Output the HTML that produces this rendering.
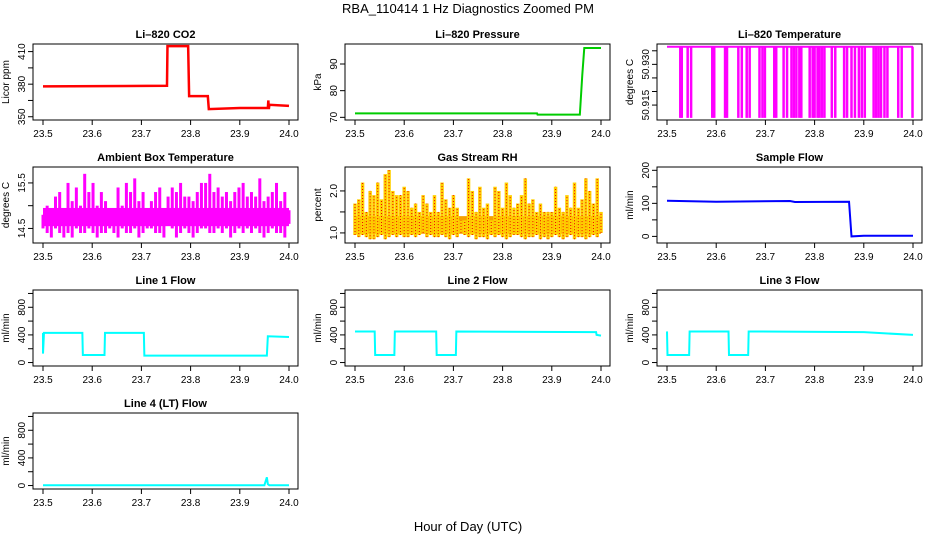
<!DOCTYPE html>
<html><head><meta charset="utf-8"><style>
body{margin:0;background:#fff;}
svg text{font-family:"Liberation Sans",Arial,sans-serif;}
</style></head><body>
<svg id="c" width="936" height="540" xmlns="http://www.w3.org/2000/svg">
<rect width="936" height="540" fill="#fff"/>
<text x="468" y="13" text-anchor="middle" font-size="13">RBA_110414  1 Hz Diagnostics Zoomed PM</text>
<text x="468" y="531" text-anchor="middle" font-size="13">Hour of Day (UTC)</text>
</svg>
<script>
// ---- data ----
const xTicks=[23.5,23.6,23.7,23.8,23.9,24.0];
const xTickLabels=["23.5","23.6","23.7","23.8","23.9","24.0"];
const co2X=[23.5,23.752,23.753,23.795,23.797,23.835,23.837,23.9,23.957,23.958,23.959,23.96,24.0];
const co2Y=[378,378.5,415,415,369,369,357,358,358,365,357,361,360];
const presX=[23.5,23.87,23.871,23.957,23.962,23.966,24.0];
const presY=[71.5,71.5,71,71,86,96,96];
const tempSpikes=[23.527,23.53,23.542,23.549,23.592,23.596,23.618,23.622,23.645,23.652,23.662,23.668,23.688,23.694,23.699,23.718,23.722,23.737,23.744,23.753,23.758,23.763,23.769,23.773,23.79,23.796,23.8,23.806,23.81,23.815,23.82,23.835,23.842,23.86,23.866,23.875,23.882,23.89,23.896,23.902,23.92,23.925,23.93,23.935,23.942,23.948,23.97,23.977,23.999];
const ambHi=[14.8,15.0,14.8,15.2,15.3,14.9,15.5,15.1,15.4,15.0,15.7,15.3,15.5,15.0,15.3,15.1,14.9,14.9,15.4,15.0,15.5,15.3,15.6,15.1,15.3,14.9,15.1,15.3,15.4,14.9,15.2,15.4,15.3,15.5,15.2,15.2,15.1,15.3,15.5,15.5,15.7,15.3,15.4,15.2,15.3,15.1,15.3,15.4,15.5,15.2,15.3,15.2,15.6,15.1,15.2,15.3,15.5,15.1,15.3,14.9];
const ambLo=[14.5,14.4,14.3,14.5,14.4,14.3,14.4,14.3,14.5,14.4,14.4,14.5,14.4,14.3,14.4,14.4,14.5,14.4,14.3,14.5,14.4,14.4,14.5,14.3,14.4,14.5,14.5,14.4,14.4,14.3,14.6,14.5,14.3,14.4,14.5,14.4,14.3,14.4,14.5,14.5,14.4,14.4,14.5,14.4,14.5,14.3,14.4,14.5,14.4,14.5,14.4,14.5,14.4,14.3,14.4,14.5,14.4,14.4,14.3,14.6];
const rhHi=[1.7,1.8,2.2,1.5,2.0,1.9,2.2,1.8,2.4,2.5,2.0,1.9,1.9,2.1,2.0,1.6,1.7,1.5,1.9,1.7,1.5,1.9,1.5,2.2,1.8,1.6,1.9,1.6,1.3,1.3,2.3,2.0,1.5,2.1,1.6,1.7,1.3,2.1,2.0,1.6,2.2,1.9,1.6,1.7,1.9,2.3,1.7,1.8,1.5,1.7,1.5,1.5,1.5,2.1,1.6,1.5,1.9,1.6,2.2,1.6,1.8,2.3,2.0,1.7,2.3,1.5];
const rhLo=[0.95,0.9,0.95,0.9,0.85,0.85,0.9,0.95,0.85,0.9,0.95,0.9,0.95,0.9,0.9,0.95,0.9,0.95,1.0,0.9,0.95,0.9,0.9,0.95,0.9,0.85,0.95,0.9,1.0,0.95,0.9,0.95,0.85,0.9,0.9,0.85,0.95,0.9,0.95,0.9,0.85,0.9,0.95,0.95,0.9,0.85,0.9,0.9,0.95,0.85,0.9,0.85,0.9,0.95,0.9,0.85,0.9,0.95,0.85,0.9,0.9,0.85,0.9,0.95,0.9,1.0];
const sfX=[23.5,23.6,23.75,23.76,23.87,23.875,23.9,24.0];
const sfY=[108,105,107,104,105,0,2,2];
const l1X=[23.5,23.5,23.502,23.58,23.581,23.625,23.626,23.705,23.706,23.955,23.957,24.0];
const l1Y=[430,130,430,430,110,110,430,430,100,100,380,370];
const l2X=[23.5,23.54,23.541,23.58,23.581,23.665,23.666,23.705,23.706,23.99,23.991,24.0];
const l2Y=[450,450,110,110,450,450,110,110,450,440,400,390];
const l3X=[23.5,23.501,23.545,23.546,23.625,23.626,23.665,23.666,23.9,24.0];
const l3Y=[450,110,110,450,450,110,110,450,440,400];
const l4X=[23.5,23.95,23.955,23.957,23.96,24.0];
const l4Y=[5,5,120,20,5,5];

// ---- layout ----
const NS="http://www.w3.org/2000/svg",svg=document.getElementById('c');
function el(t,a,p){const e=document.createElementNS(NS,t);for(const k in a)e.setAttribute(k,a[k]);(p||svg).appendChild(e);return e;}
const colX=[33,345,657],rowY=[44,167,290,413],W=265,H=76;
function panel(col,row,name,title,ylab,ymin,ymax,ticks,labels){
  const g=el('g',{});
  
  
  const x0=colX[col],y0=rowY[row];
  const sx=v=>x0+10+(v-23.5)*492, sy=v=>y0+H-(v-ymin)/(ymax-ymin)*H;
  const t=el('text',{x:x0+W/2,y:y0-6,'text-anchor':'middle','font-size':'11','font-weight':'bold'},g);t.textContent=title;
  
  const yl=el('text',{transform:`translate(${x0-24},${y0+H/2}) rotate(-90)`,'text-anchor':'middle','font-size':'10'},g);yl.textContent=ylab;
  
  xTicks.forEach((v,i)=>{el('line',{x1:sx(v),x2:sx(v),y1:y0+H,y2:y0+H+5,stroke:'#000'},g);
    const tx=el('text',{x:sx(v),y:y0+H+17,'text-anchor':'middle','font-size':'10'},g);tx.textContent=xTickLabels[i];
    });
  ticks.forEach(v=>{el('line',{x1:x0,x2:x0-5,y1:sy(v),y2:sy(v),stroke:'#000'},g);
    if(labels.includes(v)){const tx=el('text',{transform:`translate(${x0-8},${sy(v)}) rotate(-90)`,'text-anchor':'middle','font-size':'10'},g);tx.textContent=String(v.toFixed(labels.dec||0));
    }});
  el('rect',{x:x0,y:y0,width:W,height:H,fill:'none',stroke:'#000'},g);
  return {g,sx,sy};
}
function line(p,xs,ys,color,w,name){const pts=xs.map((v,i)=>p.sx(v)+','+p.sy(ys[i])).join(' ');
  const e=el('polyline',{points:pts,fill:'none',stroke:color,'stroke-width':w},p.g);
  }
function bars(p,hi,lo,color,w,name,dots){const n=hi.length;
  hi.forEach((v,i)=>{const x=p.sx(23.5+0.5*i/(n-1));
    const e=el('line',{x1:x,x2:x,y1:p.sy(lo[i]),y2:p.sy(v),stroke:color,'stroke-width':w},p.g);
    
    if(dots){const d=el('line',{x1:x,x2:x,y1:p.sy(lo[i]),y2:p.sy(v),stroke:'#e00','stroke-width':1,'stroke-dasharray':'1 2'},p.g);
      }});}

let L=[350,380,410];
let p=panel(0,0,'co2','Li\u2013820 CO2','Licor ppm',347,417,[350,365,380,395,410],L);line(p,co2X,co2Y,'#f00',2.5,'co2-line');
p=panel(1,0,'pressure','Li\u2013820 Pressure','kPa',69,97.5,[70,80,90],[70,80,90]);line(p,presX,presY,'#0c0',2,'pressure-line');
L=[50.915,50.93];L.dec=3;
p=panel(2,0,'li820-temp','Li\u2013820 Temperature','degrees C',50.9095,50.9375,[50.915,50.92,50.925,50.93,50.935],L);
line(p,[23.5,24.0],[50.9365,50.9365],'#f0f',2,'temp-line');
tempSpikes.forEach(v=>{const e=el('line',{x1:p.sx(v),x2:p.sx(v),y1:p.sy(50.9365),y2:p.sy(50.9103),stroke:'#f0f','stroke-width':2.5},p.g);
  });
L=[14.5,15.5];L.dec=1;
p=panel(0,1,'ambient','Ambient Box Temperature','degrees C',14.18,15.85,[14.5,15.0,15.5],L);
el('rect',{x:p.sx(23.5),y:p.sy(14.95),width:p.sx(24)-p.sx(23.5),height:p.sy(14.55)-p.sy(14.95),fill:'#f0f'},p.g);
bars(p,ambHi,ambLo,'#f0f',3,'ambient-bar',false);
L=[1.0,2.0];L.dec=1;
p=panel(1,1,'rh','Gas Stream RH','percent',0.76,2.57,[1.0,1.5,2.0],L);
el('rect',{x:p.sx(23.5),y:p.sy(1.4),width:p.sx(24)-p.sx(23.5),height:p.sy(0.98)-p.sy(1.4),fill:'#f5a000'},p.g);
bars(p,rhHi,rhLo,'#ffd000',3.5,'rh-bar',true);
p=panel(2,1,'sample-flow','Sample Flow','ml/min',-20,210,[0,50,100,150,200],[0,100,200]);line(p,sfX,sfY,'#00f',2,'sample-flow-line');
const fT=[0,200,400,600,800,1000],fL=[0,400,800];
p=panel(0,2,'line1','Line 1 Flow','ml/min',-50,1050,fT,fL);line(p,l1X,l1Y,'#0ff',2,'line1-flow');
p=panel(1,2,'line2','Line 2 Flow','ml/min',-50,1050,fT,fL);line(p,l2X,l2Y,'#0ff',2,'line2-flow');
p=panel(2,2,'line3','Line 3 Flow','ml/min',-50,1050,fT,fL);line(p,l3X,l3Y,'#0ff',2,'line3-flow');
p=panel(0,3,'line4','Line 4 (LT) Flow','ml/min',-50,1050,fT,fL);line(p,l4X,l4Y,'#0ff',2,'line4-flow');
</script>
</body></html>
